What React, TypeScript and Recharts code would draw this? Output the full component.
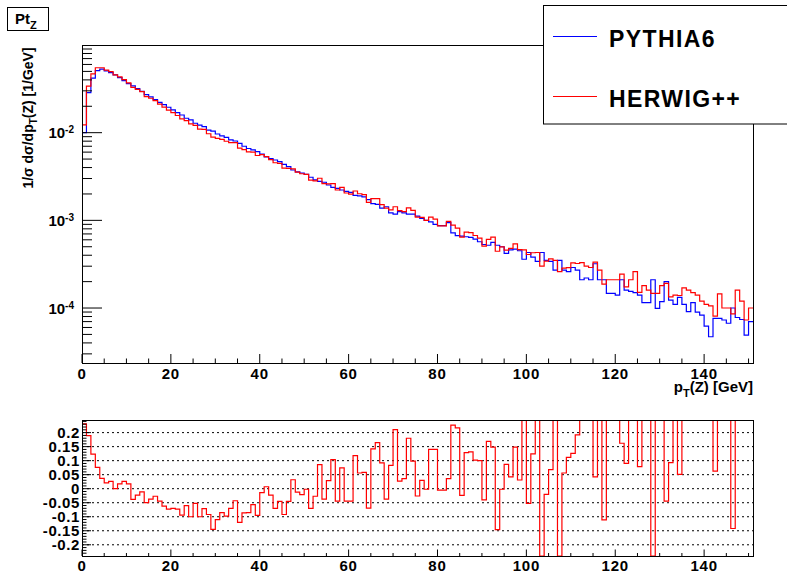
import { LineChart, Line, XAxis, YAxis, ReferenceLine } from 'recharts';

const FONT = '"Liberation Sans", Arial, Helvetica, sans-serif';

// normalised pT(Z) spectra, 1 GeV bins from 0 to 151 GeV
const pythia6 = [
  0.0100, 0.0286, 0.0418, 0.0511, 0.0530, 0.0506, 0.0484, 0.0456, 0.0425, 0.0393,
  0.0363, 0.0341, 0.0318, 0.0297, 0.0272, 0.0256, 0.0238, 0.0222, 0.0209, 0.0195,
  0.0182, 0.0169, 0.0159, 0.0146, 0.0140, 0.0128, 0.0122, 0.0117, 0.0107, 0.0104,
  0.00966, 0.00917, 0.00885, 0.00826, 0.00804, 0.00756, 0.00700, 0.00660, 0.00635, 0.00607,
  0.00570, 0.00530, 0.00505, 0.00488, 0.00467, 0.00435, 0.00409, 0.00375, 0.00358, 0.00347,
  0.00335, 0.00310, 0.00290, 0.00278, 0.00272, 0.00253, 0.00238, 0.00232, 0.00222, 0.00214,
  0.00208, 0.00193, 0.00190, 0.00185, 0.00172, 0.00155, 0.00152, 0.00138, 0.00143, 0.00122,
  0.00118, 0.00126, 0.00122, 0.00118, 0.00118, 0.00112, 0.00105, 0.00100, 0.00096, 0.00090,
  0.00087, 0.00087, 0.00094, 0.00072, 0.00067, 0.00066, 0.00065, 0.00064, 0.00061, 0.00057,
  0.00053, 0.00052, 0.00056, 0.00052, 0.00050, 0.00042, 0.00046, 0.00047, 0.00045, 0.00036,
  0.00043, 0.00038, 0.00034, 0.00043, 0.00035, 0.00034, 0.00027, 0.00035, 0.00027, 0.00026,
  0.00029, 0.00027, 0.00021, 0.00022, 0.00021, 0.00032, 0.00021, 0.00021, 0.000147, 0.000147,
  0.00014, 0.00021, 0.00016, 0.000155, 0.00015, 0.00014, 0.000115, 0.000115, 0.00021, 0.000099,
  0.000118, 0.0002, 0.000123, 0.00011, 0.000132, 0.00011, 0.000091, 0.000115, 0.00009, 0.000083,
  0.000062, 0.000047, 0.000076, 0.000076, 0.000073, 0.000067, 0.0001, 0.000078, 0.000074, 0.000049,
  0.00007,
];

const herwigpp = [
  0.0123, 0.0340, 0.0469, 0.0550, 0.0550, 0.0517, 0.0497, 0.0456, 0.0432, 0.0403,
  0.0369, 0.0328, 0.0311, 0.0294, 0.0258, 0.0247, 0.0232, 0.0212, 0.0196, 0.0181,
  0.0169, 0.0157, 0.0144, 0.0137, 0.0126, 0.0121, 0.0110, 0.0109, 0.00972, 0.00889,
  0.00860, 0.00839, 0.00798, 0.00768, 0.00769, 0.00665, 0.00640, 0.00604, 0.00599, 0.00549,
  0.00562, 0.00534, 0.00493, 0.00454, 0.00446, 0.00395, 0.00391, 0.00387, 0.00354, 0.00340,
  0.00334, 0.00288, 0.00282, 0.00302, 0.00262, 0.00260, 0.00263, 0.00222, 0.00238, 0.00205,
  0.00199, 0.00216, 0.00201, 0.00196, 0.00160, 0.00177, 0.00177, 0.00151, 0.00138, 0.00132,
  0.00143, 0.00129, 0.00126, 0.00139, 0.00130, 0.00109, 0.00108, 0.00100, 0.00109, 0.00103,
  0.000866, 0.000866, 0.000974, 0.000883, 0.000815, 0.000644, 0.000734, 0.000724, 0.000672, 0.000627,
  0.000509, 0.000608, 0.000643, 0.000444, 0.000499, 0.000457, 0.000479, 0.000540, 0.000464, 0.00046,
  0.000408, 0.000427, 0.00043, 0.00030, 0.000343, 0.000363, 0.00035, 0.00026, 0.000285, 0.000289,
  0.000327, 0.000322, 0.00033, 0.00030, 0.00029, 0.000333, 0.00027, 0.000187, 0.00021, 0.00021,
  0.00021, 0.000244, 0.000174, 0.00021, 0.00026, 0.000151, 0.00018, 0.00016, 0.000147, 0.000147,
  0.00018, 0.000191, 0.000134, 0.00014, 0.000139, 0.00017, 0.00016, 0.00015, 0.00014, 0.00012,
  0.00011, 0.000106, 0.0000808, 0.000145, 0.0001, 0.0001, 0.0000858, 0.00016, 0.00012, 0.000073,
  0.0001,
];

// HERWIG++ / PYTHIA6 - 1, as drawn (clipped bins sit on the frame)
const ratio = [
  0.231, 0.189, 0.123, 0.076, 0.037, 0.021, 0.026, 0.0, 0.017, 0.026,
  0.017, -0.038, -0.023, -0.011, -0.05, -0.037, -0.027, -0.044, -0.062, -0.073,
  -0.07, -0.073, -0.094, -0.06, -0.1, -0.052, -0.1, -0.071, -0.092, -0.145,
  -0.11, -0.085, -0.098, -0.07, -0.043, -0.12, -0.086, -0.085, -0.057, -0.095,
  -0.014, 0.007, -0.023, -0.07, -0.045, -0.092, -0.045, 0.032, -0.012, -0.021,
  -0.002, -0.07, -0.027, 0.086, -0.037, 0.029, 0.104, -0.044, 0.074, -0.044,
  -0.044, 0.118, 0.056, 0.058, -0.069, 0.142, 0.164, 0.092, -0.037, 0.083,
  0.211, 0.027, 0.036, 0.18, 0.098, -0.026, 0.03, -0.002, 0.14, 0.14,
  -0.005, -0.005, 0.036, 0.227, 0.217, -0.024, 0.129, 0.131, 0.102, 0.1,
  -0.04, 0.169, 0.148, -0.146, -0.002, 0.087, 0.042, 0.148, 0.031, 0.245,
  -0.052, 0.124, 0.245, -0.24, -0.02, 0.068, 0.245, -0.24, 0.056, 0.112,
  0.126, 0.192, 0.245, 0.245, 0.245, 0.042, 0.245, -0.111, 0.245, 0.245,
  0.245, 0.162, 0.09, 0.245, 0.245, 0.079, 0.245, 0.245, -0.24, 0.245,
  0.245, -0.044, 0.093, 0.245, 0.051, 0.245, 0.245, 0.245, 0.245, 0.245,
  0.245, 0.245, 0.063, 0.245, 0.245, 0.245, -0.142, 0.245, 0.245, 0.245,
  0.245,
];

const X_MAX = 151;
const xTicks = Array.from({ length: 31 }, (_, i) => i * 5);
const xMajor = [0, 20, 40, 60, 80, 100, 120, 140];

const LOG_MIN = 2.36e-5;
const LOG_MAX = 0.1;
const logExponents = [-4, -3, -2];
const logTicks = [-5, -4, -3, -2]
  .flatMap((d) => [1, 2, 3, 4, 5, 6, 7, 8, 9].map((m) => m * Math.pow(10, d)))
  .filter((v) => v >= LOG_MIN && v < LOG_MAX);

const RATIO_MIN = -0.24;
const RATIO_MAX = 0.245;
const ratioMajor = [-0.2, -0.15, -0.1, -0.05, 0, 0.05, 0.1, 0.15, 0.2];
const ratioLabels = ['-0.2', '-0.15', '-0.1', '-0.05', '0', '0.05', '0.1', '0.15', '0.2'];
const ratioTicks = Array.from({ length: 48 }, (_, i) => (i - 23) / 100);

// step histograms need a closing point at the upper edge of the last bin
const specData = pythia6.map((p, i) => ({ x: i, p, h: herwigpp[i] }));
specData.push({ x: X_MAX, p: pythia6[pythia6.length - 1], h: herwigpp[herwigpp.length - 1] });
const ratioData = ratio.map((r, i) => ({ x: i, r }));
ratioData.push({ x: X_MAX, r: ratio[ratio.length - 1] });

const isMajorX = (v: number) => xMajor.includes(v);

const TopXTick = (props: any) => {
  const { x, y, payload } = props;
  const major = isMajorX(payload.value);
  return (
    <g>
      <line x1={x} x2={x} y1={y} y2={y - (major ? 9 : 4.5)} stroke="#000" />
      {major && (
        <text x={x} y={y + 16} textAnchor="middle" fontSize={15} fontWeight="bold" letterSpacing={0.8} fontFamily={FONT} fill="#000">
          {payload.value}
        </text>
      )}
    </g>
  );
};

const BottomXTick = (props: any) => {
  const { x, y, payload } = props;
  const major = isMajorX(payload.value);
  return (
    <g>
      <line x1={x} x2={x} y1={y} y2={y - (major ? 6.5 : 3)} stroke="#000" />
      {major && (
        <text x={x} y={y + 15} textAnchor="middle" fontSize={15} fontWeight="bold" letterSpacing={0.8} fontFamily={FONT} fill="#000">
          {payload.value}
        </text>
      )}
    </g>
  );
};

const LogYTick = (props: any) => {
  const { x, y, payload } = props;
  const v = payload.value as number;
  const exp = logExponents.find((e) => Math.abs(v / Math.pow(10, e) - 1) < 1e-6);
  const major = exp !== undefined;
  return (
    <g>
      <line x1={x} x2={x + (major ? 20 : 10)} y1={y} y2={y} stroke="#000" />
      {major && (
        <text x={x - 8} y={y + 5.5} textAnchor="end" fontSize={15} fontWeight="bold" fontFamily={FONT} fill="#000">
          10
          <tspan dy={-5} fontSize={10}>
            {exp}
          </tspan>
        </text>
      )}
    </g>
  );
};

const RatioYTick = (props: any) => {
  const { x, y, payload } = props;
  const v = payload.value as number;
  const idx = ratioMajor.findIndex((m) => Math.abs(m - v) < 1e-9);
  const major = idx >= 0;
  return (
    <g>
      <line x1={x} x2={x + (major ? 9 : 4.5)} y1={y} y2={y} stroke="#000" />
      {major && (
        <text x={x - 2} y={y + 5.5} textAnchor="end" fontSize={15} fontWeight="bold" letterSpacing={0.6} fontFamily={FONT} fill="#000">
          {ratioLabels[idx]}
        </text>
      )}
    </g>
  );
};

export default function App() {
  return (
    <div
      style={{
        position: 'absolute',
        left: 0,
        top: 0,
        width: 787,
        height: 574,
        background: '#fff',
        overflow: 'hidden',
        fontFamily: FONT,
      }}
    >
      <div style={{ position: 'absolute', left: 0, top: 0 }}>
        <LineChart width={787} height={400} data={specData} margin={{ top: 45, right: 34, bottom: 0, left: 0 }}>
          <XAxis
            dataKey="x"
            type="number"
            domain={[0, X_MAX]}
            ticks={xTicks}
            interval={0}
            allowDataOverflow
            axisLine={false}
            tickLine={false}
            tickSize={0}
            tickMargin={0}
            height={37}
            tick={<TopXTick />}
          />
          <YAxis
            type="number"
            scale="log"
            domain={[LOG_MIN, LOG_MAX]}
            ticks={logTicks}
            interval={0}
            allowDataOverflow
            axisLine={false}
            tickLine={false}
            tickSize={0}
            tickMargin={0}
            width={82}
            tick={<LogYTick />}
          />
          <Line dataKey="p" type="stepAfter" stroke="#0000ff" strokeWidth={1.2} dot={false} isAnimationActive={false} />
          <Line dataKey="h" type="stepAfter" stroke="#ff0000" strokeWidth={1.2} dot={false} isAnimationActive={false} />
        </LineChart>
      </div>

      <div style={{ position: 'absolute', left: 0, top: 400 }}>
        <LineChart width={787} height={174} data={ratioData} margin={{ top: 20, right: 34, bottom: 0, left: 0 }}>
          <XAxis
            dataKey="x"
            type="number"
            domain={[0, X_MAX]}
            ticks={xTicks}
            interval={0}
            allowDataOverflow
            axisLine={false}
            tickLine={false}
            tickSize={0}
            tickMargin={0}
            height={18}
            tick={<BottomXTick />}
          />
          <YAxis
            type="number"
            domain={[RATIO_MIN, RATIO_MAX]}
            ticks={ratioTicks}
            interval={0}
            allowDataOverflow
            axisLine={false}
            tickLine={false}
            tickSize={0}
            tickMargin={0}
            width={82}
            tick={<RatioYTick />}
          />
          {ratioMajor.map((v) => (
            <ReferenceLine key={v} y={v} stroke="#000" strokeWidth={1} strokeDasharray="2 3" />
          ))}
          <Line dataKey="r" type="stepAfter" stroke="#ff0000" strokeWidth={1.2} dot={false} isAnimationActive={false} />
        </LineChart>
      </div>

      <svg
        width={787}
        height={574}
        style={{ position: 'absolute', left: 0, top: 0, pointerEvents: 'none' }}
        fontFamily={FONT}
      >
        <rect x={82.5} y={45.5} width={671} height={318} fill="none" stroke="#000" />
        <rect x={82.5} y={420.5} width={671} height={136} fill="none" stroke="#000" />

        <rect x={7.5} y={7.5} width={41} height={23} fill="#fff" stroke="#000" />
        <text x={15} y={24} fontSize={15} fontWeight="bold">
          Pt
          <tspan dy={5} fontSize={11}>Z</tspan>
        </text>

        <text
          transform="translate(33,118) rotate(-90)"
          textAnchor="middle"
          fontSize={14}
          fontWeight="bold"
        >
          1/σ dσ/dp
          <tspan dy={4} fontSize={10}>T</tspan>
          <tspan dy={-4}>(Z) [1/GeV]</tspan>
        </text>

        <text x={753} y={392} textAnchor="end" fontSize={15} fontWeight="bold">
          p
          <tspan dy={5} fontSize={11}>T</tspan>
          <tspan dy={-5}>(Z) [GeV]</tspan>
        </text>

        <rect x={543.5} y={5.5} width={260} height={118.5} fill="#fff" stroke="#000" />
        <line x1={553} x2={597} y1={36.5} y2={36.5} stroke="#0000ff" />
        <text x={609} y={46.5} fontSize={23} fontWeight="bold" letterSpacing={1.4}>
          PYTHIA6
        </text>
        <line x1={553} x2={597} y1={96.5} y2={96.5} stroke="#ff0000" />
        <text x={609} y={106.5} fontSize={23} fontWeight="bold" letterSpacing={1.4}>
          HERWIG++
        </text>
      </svg>
    </div>
  );
}
